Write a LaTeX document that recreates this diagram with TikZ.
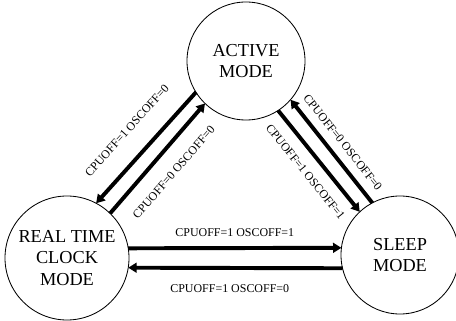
\documentclass[tikz,border=0pt]{standalone}
\usepackage{fontspec}
\setmainfont{Liberation Serif}
\usetikzlibrary{arrows.meta, calc}

\tikzset{
	mode/.style={draw, line width=0.6pt, circle, inner sep=0pt, outer sep=0pt, align=center, font=\fontsize{13}{15}\selectfont},
	trans/.style={line width=2.8pt, -{Triangle[length=6pt, width=7pt]}},
	cond/.style={font=\fontsize{8.5}{10}\selectfont, inner sep=0pt}
}

\begin{document}
\begin{tikzpicture}

	\useasboundingbox (0,0) rectangle (11.4,8.025);

	% the three power modes
	\node[mode, minimum size=2.95cm] (active) at (6.15,6.5) {ACTIVE\\MODE};
	\node[mode, minimum size=3.1cm] (rtc) at (1.675,1.575) {REAL TIME\\CLOCK\\MODE};
	\node[mode, minimum size=2.95cm] (sleep) at (10.0,1.65) {SLEEP\\MODE};

	% active <-> real time clock
	\draw[trans] (active.212) -- (rtc.62) node[midway, sloped, above=14pt, cond] {CPUOFF=1 OSCOFF=0};
	\draw[trans] (rtc.46) -- (active.226) node[midway, sloped, below=11pt, cond] {CPUOFF=0 OSCOFF=0};

	% active <-> sleep
	\draw[trans] (sleep.118) -- (active.319) node[midway, sloped, above=6pt, cond] {CPUOFF=0 OSCOFF=0};
	\draw[trans] (active.303) -- (sleep.133) node[midway, sloped, below=8pt, cond] {CPUOFF=1 OSCOFF=1};

	% real time clock <-> sleep
	\draw[trans] (rtc.9) -- (sleep.173) node[midway, above=6.5pt, cond] {CPUOFF=1 OSCOFF=1};
	\draw[trans] (sleep.193) -- (rtc.-9) node[midway, below=10.5pt, xshift=-4pt, cond] {CPUOFF=1 OSCOFF=0};

\end{tikzpicture}
\end{document}
